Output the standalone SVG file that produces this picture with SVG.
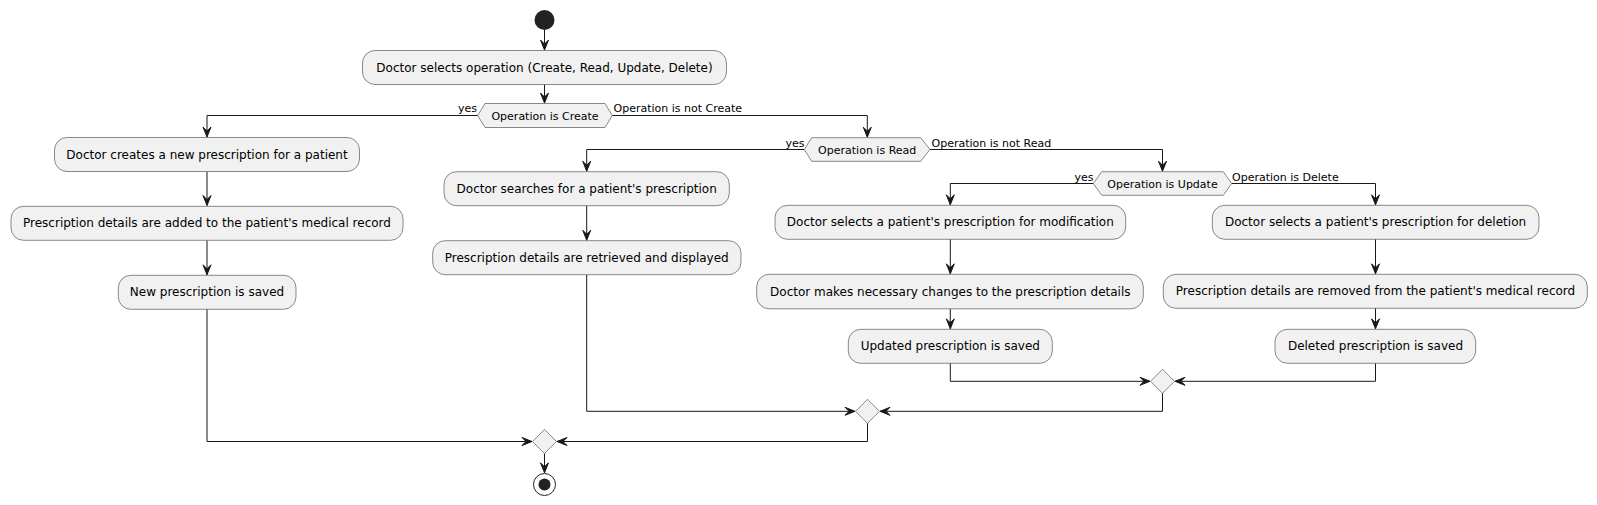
<svg xmlns="http://www.w3.org/2000/svg" width="1597" height="505" viewBox="0 0 1597 505">
<style>
.box{fill:#F1F1F1;stroke:#181818;stroke-width:0.5}
.hex{fill:#F1F1F1;stroke:#181818;stroke-width:0.5}
.t{font-family:"DejaVu Sans",sans-serif;font-size:12px;fill:#000;text-anchor:middle}
.ht{font-family:"DejaVu Sans",sans-serif;font-size:11px;fill:#000;text-anchor:middle}
.lbl{font-family:"DejaVu Sans",sans-serif;font-size:11px;fill:#000}
.c{fill:none;stroke:#181818;stroke-width:1;marker-end:url(#ah)}
</style>
<defs>
<marker id="ah" viewBox="-12 -6 13 12" refX="0" refY="0" markerWidth="13" markerHeight="12" markerUnits="userSpaceOnUse" orient="auto">
<path d="M0,0 L-10,-4 L-6,0 L-10,4 Z" fill="#181818" stroke="#181818" stroke-width="1" stroke-linejoin="miter"/>
</marker>
</defs>

<g id="connectors">
<path class="c" d="M544.5,30 V50"/>
<path class="c" d="M544.5,84.5 V103"/>
<path class="c" d="M477.7,115.5 H207 V137"/>
<path class="c" d="M612.3,115.5 H867.3 V137.2"/>
<path class="c" d="M207,171.5 V205.5"/>
<path class="c" d="M207,240.5 V274.8"/>
<path class="c" d="M207,309.3 V441.5 H532"/>
<path class="c" d="M804.3,149.5 H586.7 V171.2"/>
<path class="c" d="M586.7,205.5 V240.2"/>
<path class="c" d="M586.7,274.5 V411.3 H855"/>
<path class="c" d="M930,149.5 H1162.5 V171.2"/>
<path class="c" d="M1093.3,183.5 H950.3 V204.8"/>
<path class="c" d="M950.3,239.3 V273.8"/>
<path class="c" d="M950.3,309 V328.8"/>
<path class="c" d="M950.3,363.3 V381.3 H1150"/>
<path class="c" d="M1231.7,183.5 H1375.5 V204.8"/>
<path class="c" d="M1375.5,239.3 V273.8"/>
<path class="c" d="M1375.5,308.3 V328.8"/>
<path class="c" d="M1375.5,363.3 V381.3 H1175"/>
<path class="c" d="M1162.5,393.3 V411.3 H880"/>
<path class="c" d="M867.5,423.3 V441.5 H557"/>
<path class="c" d="M544.5,453.5 V472.8"/>
<text class="lbl" x="477" y="112.3" text-anchor="end">yes</text>
<text class="lbl" x="613.5" y="112.3">Operation is not Create</text>
<text class="lbl" x="804.5" y="146.5" text-anchor="end">yes</text>
<text class="lbl" x="931.5" y="146.5">Operation is not Read</text>
<text class="lbl" x="1093.5" y="180.5" text-anchor="end">yes</text>
<text class="lbl" x="1232" y="180.5">Operation is Delete</text>
</g>

<g id="start"><circle cx="544.5" cy="20" r="10" fill="#222222"/></g>

<g id="selectOp"><rect class="box" x="362.5" y="50.5" width="364" height="34" rx="12.5"/><text class="t" x="544.5" y="71.5">Doctor selects operation (Create, Read, Update, Delete)</text></g>

<g id="ifCreate"><polygon class="hex" points="477.7,115.5 485,103.5 605,103.5 612.3,115.5 605,127.5 485,127.5"/><text class="ht" x="545" y="119.5">Operation is Create</text></g>

<g id="create1"><rect class="box" x="54.5" y="137.5" width="305" height="34" rx="12.5"/><text class="t" x="207" y="158.5">Doctor creates a new prescription for a patient</text></g>
<g id="create2"><rect class="box" x="11" y="206.3" width="392" height="34" rx="12.5"/><text class="t" x="207" y="227.3">Prescription details are added to the patient's medical record</text></g>
<g id="create3"><rect class="box" x="118.3" y="275.3" width="177.7" height="34" rx="12.5"/><text class="t" x="207" y="296.3">New prescription is saved</text></g>

<g id="ifRead"><polygon class="hex" points="804.3,149.5 811.7,137.7 920.7,137.7 930,149.5 920.7,161.3 811.7,161.3"/><text class="ht" x="867.2" y="153.5">Operation is Read</text></g>

<g id="read1"><rect class="box" x="444" y="171.7" width="285.3" height="34" rx="12.5"/><text class="t" x="586.7" y="192.7">Doctor searches for a patient's prescription</text></g>
<g id="read2"><rect class="box" x="432.7" y="240.7" width="308.3" height="34" rx="12.5"/><text class="t" x="586.7" y="261.7">Prescription details are retrieved and displayed</text></g>

<g id="ifUpdate"><polygon class="hex" points="1093.3,183.5 1101.7,171.7 1223.3,171.7 1231.7,183.5 1223.3,195.3 1101.7,195.3"/><text class="ht" x="1162.5" y="187.5">Operation is Update</text></g>

<g id="update1"><rect class="box" x="775" y="205.3" width="350.7" height="34" rx="12.5"/><text class="t" x="950.3" y="226.3">Doctor selects a patient's prescription for modification</text></g>
<g id="update2"><rect class="box" x="756.7" y="274.3" width="386.6" height="34.5" rx="12.5"/><text class="t" x="950.3" y="295.5">Doctor makes necessary changes to the prescription details</text></g>
<g id="update3"><rect class="box" x="848.3" y="329.3" width="204" height="34" rx="12.5"/><text class="t" x="950.3" y="350.3">Updated prescription is saved</text></g>

<g id="delete1"><rect class="box" x="1212.3" y="205.3" width="326.7" height="34" rx="12.5"/><text class="t" x="1375.5" y="226.3">Doctor selects a patient's prescription for deletion</text></g>
<g id="delete2"><rect class="box" x="1163.3" y="274.3" width="424" height="34" rx="12.5"/><text class="t" x="1375.5" y="295.3">Prescription details are removed from the patient's medical record</text></g>
<g id="delete3"><rect class="box" x="1275" y="329.3" width="200.7" height="34" rx="12.5"/><text class="t" x="1375.5" y="350.3">Deleted prescription is saved</text></g>

<g id="mergeUpdDel"><polygon class="hex" points="1162.5,369.3 1174.5,381.3 1162.5,393.3 1150.5,381.3"/></g>
<g id="mergeRead"><polygon class="hex" points="867.5,399.3 879.5,411.3 867.5,423.3 855.5,411.3"/></g>
<g id="mergeAll"><polygon class="hex" points="544.5,429.5 556.5,441.5 544.5,453.5 532.5,441.5"/></g>

<g id="end"><circle cx="544.5" cy="484.5" r="11" fill="none" stroke="#222222" stroke-width="1"/><circle cx="544.5" cy="484.5" r="6" fill="#222222"/></g>
</svg>
